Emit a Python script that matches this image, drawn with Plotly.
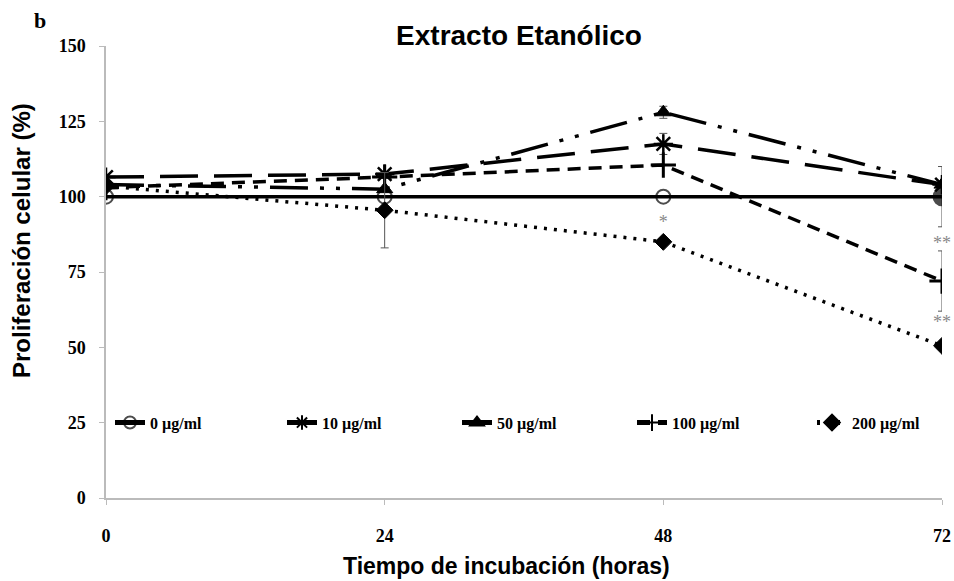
import plotly.graph_objects as go

hours = [0, 24, 48, 72]
series_names = ["0 µg/ml", "10 µg/ml", "50 µg/ml", "100 µg/ml", "200 µg/ml"]
v0 = [100, 100, 100, 100]
v10 = [106.5, 107.5, 117.5, 104]
v50 = [104, 102.5, 128, 104]
v100 = [103, 106.5, 110.5, 72]
v200 = [103.5, 95.5, 85, 50.5]
e0 = [0, 0, 0, 10]
e10 = [0, 0, 3.5, 0]
e50 = [0, 0, 2, 0]
e100 = [0, 0, 0, 10]
e200 = [0, 12.5, 0, 0]
tick_vals_y = [0, 25, 50, 75, 100, 125, 150]
tick_vals_x = [0, 24, 48, 72]
sig_x = [48, 72, 72]
sig_y = [91, 84, 58]
sig_text = ["*", "**", "**"]

values = [v0, v10, v50, v100, v200]
errors = [e0, e10, e50, e100, e200]
dashes = ["solid", "38px,16px", "38px,12px,4px,12px,4px,12px", "13px,8px", "3px,7px"]
symbols = [["circle-open", "circle-open", "circle-open", "circle"],
           "asterisk-open", "triangle-up", "cross-thin-open", "diamond"]
msizes = [[14, 14, 14, 17], 16, 14, 18, 13]
mlw = [2, 2.5, 1, 3, 1]
legend_ids = ["legend", "legend2", "legend3", "legend4", "legend5"]
legend_x_px = [110, 282, 457, 632, 812]  # page x of legend boxes

W, H = 954, 581
L, R, T, B = 106, 12, 46, 83
plot_w = W - L - R
plot_h = H - T - B


def px_x(p):
    return (p - L) / plot_w


def px_y(p):
    return 1 - (p - T) / plot_h


fig = go.Figure()
for name, v, e, d, s, ms, lw, lg in zip(series_names, values, errors, dashes, symbols, msizes, mlw, legend_ids):
    fig.add_trace(go.Scatter(
        x=hours, y=v, name=name, mode="lines+markers", legend=lg,
        line=dict(color="black", width=3.5, dash=d),
        marker=dict(symbol=s, size=ms, color="black", line=dict(color="black", width=lw)),
        error_y=dict(type="data", array=e, visible=True, color="#555", thickness=1, width=4),
    ))

fig.add_trace(go.Scatter(
    x=sig_x, y=sig_y, mode="text", text=sig_text, showlegend=False, cliponaxis=False,
    textfont=dict(family="Liberation Serif", size=18, color="#888"),
))

axis_font = dict(family="Liberation Serif", size=18, color="black", weight="bold")

fig.update_layout(
    width=W, height=H,
    paper_bgcolor="white", plot_bgcolor="white",
    margin=dict(l=L, r=R, t=T, b=B, autoexpand=False),
    title=dict(text="Extracto Etanólico", x=px_x(519), xref="paper",
               y=1 - 35 / H, yref="container", xanchor="center", yanchor="middle",
               font=dict(family="Liberation Sans", size=28, color="black", weight="bold")),
    xaxis=dict(range=[0, 72], tickvals=tick_vals_x, showline=True, linecolor="#bbb", linewidth=1.5,
               ticks="outside", tickcolor="#bbb", ticklen=5, showgrid=False, zeroline=False,
               tickfont=axis_font, ticklabelstandoff=16, automargin=False),
    yaxis=dict(range=[0, 150], tickvals=tick_vals_y, showline=True, linecolor="#bbb", linewidth=1.5,
               ticks="outside", tickcolor="#bbb", ticklen=5, showgrid=False, zeroline=False,
               tickfont=axis_font, ticklabelstandoff=10, automargin=False),
    showlegend=True,
)

leg_y = 25 / 150
for lg, px in zip(legend_ids, legend_x_px):
    fig.update_layout({lg: dict(orientation="h", x=px_x(px), y=leg_y,
                                xanchor="left", yanchor="middle", bgcolor="rgba(0,0,0,0)",
                                itemsizing="constant",
                                font=dict(family="Liberation Serif", size=16, color="black", weight="bold"))})

fig.add_annotation(text="Tiempo de incubación (horas)", x=px_x(506), y=px_y(566),
                   xref="paper", yref="paper", showarrow=False, xanchor="center", yanchor="middle",
                   font=dict(family="Liberation Sans", size=23, color="black", weight="bold"))
fig.add_annotation(text="Proliferación celular (%)", x=px_x(22), y=px_y(241), textangle=-90,
                   xref="paper", yref="paper", showarrow=False, xanchor="center", yanchor="middle",
                   font=dict(family="Liberation Sans", size=24, color="black", weight="bold"))
fig.add_annotation(text="b", x=px_x(40), y=px_y(20),
                   xref="paper", yref="paper", showarrow=False, xanchor="center", yanchor="middle",
                   font=dict(family="Liberation Serif", size=22, color="black", weight="bold"))

fig.write_html("out.html", config={"displayModeBar": False},
               post_script="document.body.style.margin='0';document.body.style.overflow='hidden';")
